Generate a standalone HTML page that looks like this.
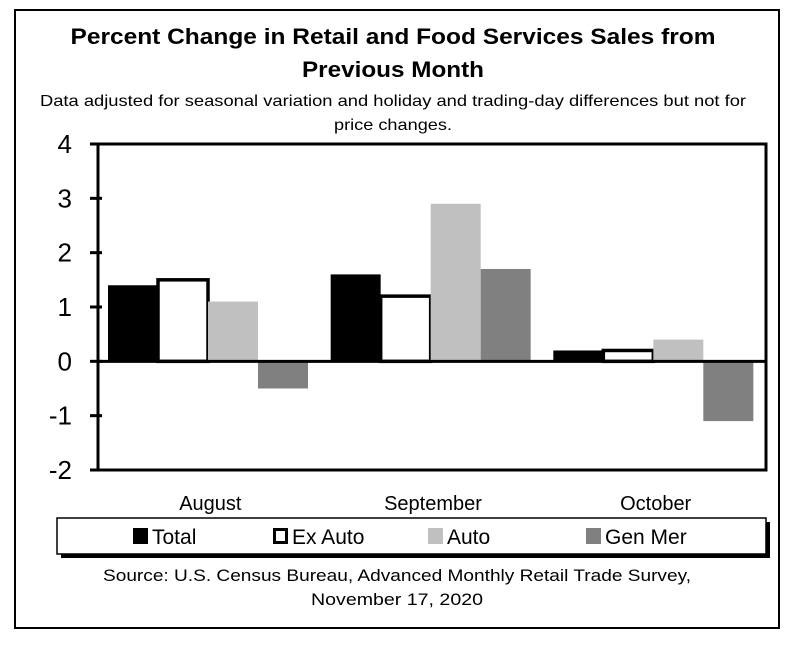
<!DOCTYPE html>
<html><head><meta charset="utf-8"><style>
body{margin:0;background:#fff;}
svg{display:block;font-family:"Liberation Sans",Arial,sans-serif;}
</style></head><body>
<svg id="chart" width="792" height="645" viewBox="0 0 792 645">
<rect x="15" y="10" width="764" height="618" fill="#fff" stroke="#000" stroke-width="2"/>
<text x="393" y="44" text-anchor="middle" font-size="22" font-weight="bold" textLength="645" lengthAdjust="spacingAndGlyphs">Percent Change in Retail and Food Services Sales from</text>
<text x="393" y="77" text-anchor="middle" font-size="22" font-weight="bold" textLength="182" lengthAdjust="spacingAndGlyphs">Previous Month</text>
<text x="393" y="106" text-anchor="middle" font-size="16" textLength="706" lengthAdjust="spacingAndGlyphs">Data adjusted for seasonal variation and holiday and trading-day differences but not for</text>
<text x="393" y="130" text-anchor="middle" font-size="16" textLength="118" lengthAdjust="spacingAndGlyphs">price changes.</text>
<g id="bars"></g>
<g id="axes"></g>
<rect x="61" y="522" width="709" height="36" fill="#000"/>
<rect x="57" y="518" width="709" height="36" fill="#fff" stroke="#000" stroke-width="1.5"/>
<g id="legend"></g>
<text x="397" y="581" text-anchor="middle" font-size="17" textLength="588" lengthAdjust="spacingAndGlyphs">Source: U.S. Census Bureau, Advanced Monthly Retail Trade Survey,</text>
<text x="397" y="605" text-anchor="middle" font-size="17" textLength="172" lengthAdjust="spacingAndGlyphs">November 17, 2020</text>
</svg>
<script>
const categories = ["August", "September", "October"];
const seriesNames = ["Total", "Ex Auto", "Auto", "Gen Mer"];
const totalValues = [1.4, 1.6, 0.2];
const exAutoValues = [1.5, 1.2, 0.2];
const autoValues = [1.1, 2.9, 0.4];
const genMerValues = [-0.5, 1.7, -1.1];
const yTicks = [4, 3, 2, 1, 0, -1, -2];

const NS = "http://www.w3.org/2000/svg";
const plotLeft = 98, plotRight = 766, plotTop = 144, plotBottom = 470;
const yMin = -2, yMax = 4;
const yScale = v => plotTop + (yMax - v) / (yMax - yMin) * (plotBottom - plotTop);
const catW = (plotRight - plotLeft) / categories.length;
const barW = 50, groupPad = 10;
const xScale = (ci, si) => plotLeft + ci * catW + groupPad + si * barW;
const series = [totalValues, exAutoValues, autoValues, genMerValues];
const fills = ["#000", "#fff", "#c0c0c0", "#808080"];
const names = ["bar-total", "bar-ex-auto", "bar-auto", "bar-gen-mer"];
function mk(tag, attrs, parent) {
  const e = document.createElementNS(NS, tag);
  for (const k in attrs) e.setAttribute(k, attrs[k]);
  parent.appendChild(e);
  return e;
}
const barsG = document.getElementById("bars");
series.forEach((vals, si) => {
  vals.forEach((v, ci) => {
    const y0 = yScale(0), y1 = yScale(v);
    const r = mk("rect", {x: xScale(ci, si), y: Math.min(y0, y1), width: barW, height: Math.abs(y1 - y0), fill: fills[si]}, barsG);
    if (si === 1) { r.setAttribute("stroke", "#000"); r.setAttribute("stroke-width", "3.5"); }
    
    
  });
});
const axesG = document.getElementById("axes");
const frame = mk("rect", {x: plotLeft, y: plotTop, width: plotRight - plotLeft, height: plotBottom - plotTop, fill: "none", stroke: "#000", "stroke-width": 3}, axesG);


const zl = mk("line", {x1: plotLeft, x2: plotRight, y1: yScale(0), y2: yScale(0), stroke: "#000", "stroke-width": 3}, axesG);


yTicks.forEach(t => {
  const tk = mk("line", {x1: plotLeft - 8, x2: plotLeft + 4, y1: yScale(t), y2: yScale(t), stroke: "#000", "stroke-width": 3}, axesG);
  
  
  const tx = mk("text", {x: 72, y: yScale(t) + 9, "text-anchor": "end", "font-size": 26}, axesG);
  tx.textContent = t;
  
  
});
categories.forEach((c, ci) => {
  const tx = mk("text", {x: plotLeft + ci * catW + catW / 2 + 1, y: 510, "text-anchor": "middle", "font-size": 20}, axesG);
  tx.textContent = c;
  
  
});
const legendG = document.getElementById("legend");
const lx = [133, 273, 428, 586];
seriesNames.forEach((n, i) => {
  const sw = mk("rect", {x: lx[i], y: 528, width: 15, height: 16, fill: fills[i]}, legendG);
  if (i === 1) { sw.setAttribute("stroke", "#000"); sw.setAttribute("stroke-width", "3"); sw.setAttribute("x", lx[i] + 1.5); sw.setAttribute("y", 529.5); sw.setAttribute("width", 12); sw.setAttribute("height", 13); }
  
  
  const tx = mk("text", {x: lx[i] + 19, y: 544, "font-size": 21}, legendG);
  tx.textContent = n;
  
  
});
</script>
</body></html>
